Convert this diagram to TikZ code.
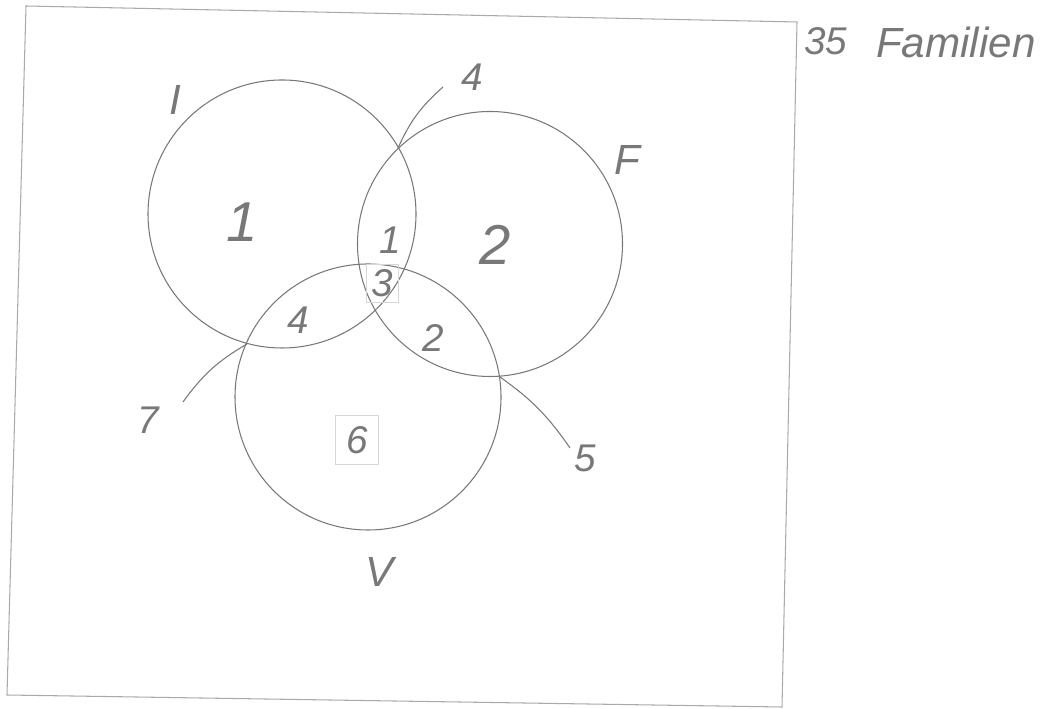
\documentclass[tikz,border=0pt]{standalone}
\usepackage{fontspec}
\setmainfont{Liberation Sans}
\usetikzlibrary{calc,positioning}
\definecolor{pencil}{RGB}{120,120,120}
\definecolor{framegray}{RGB}{170,170,170}
\definecolor{boxgray}{RGB}{215,215,215}

\tikzset{
  setcirc/.style={draw=pencil,line width=0.6pt},
  leader/.style={draw=pencil,line width=0.6pt},
  hand/.style={text=pencil,font=\itshape},
  bignum/.style={hand,font=\itshape\fontsize{32}{36}\selectfont},
  smallnum/.style={hand,font=\itshape\fontsize{22}{26}\selectfont},
  setlabel/.style={hand,font=\itshape\fontsize{24}{28}\selectfont},
  markbox/.style={draw=boxgray,line width=0.5pt,inner sep=3pt}
}

\begin{document}
\begin{tikzpicture}
        \useasboundingbox (0,0) rectangle (20.9,14.18);
        % frame (scanned sheet, slightly tilted)
        \coordinate (tl) at (0.52,14.06);
        \coordinate (tr) at (15.94,13.74);
        \coordinate (br) at (15.64,0.04);
        \coordinate (bl) at (0.14,0.28);
        \draw[framegray,line width=0.6pt] (tl) -- (tr) -- (br) -- (bl) -- cycle;

        % the three sets
        \draw[setcirc] (5.64,9.90) circle (2.68);
        \draw[setcirc] (9.80,9.30) circle (2.65);
        \draw[setcirc] (7.36,6.24) circle (2.66);

        \node[setlabel] (labI) at (3.50,12.18) {I};
        \node[setlabel] (labF) at (12.54,10.98) {F};
        \node[setlabel] (labV) at (7.60,2.74) {V};

        % counts inside
        \node[bignum] (onlyI) at (4.84,9.74) {1};
        \node[bignum] (onlyF) at (9.90,9.28) {2};
        \node[smallnum] (IF) at (7.80,9.38) {1};
        \node[smallnum,markbox] (IFV) at (7.64,8.52) {3};
        \node[smallnum] (IV) at (5.96,7.78) {4};
        \node[smallnum] (FV) at (8.66,7.42) {2};
        \node[smallnum,markbox,inner sep=6pt] (onlyV) at (7.14,5.38) {6};

        % leaders to the outer counts
        \coordinate (xIF) at (7.96,11.22);
        \coordinate (eIF) at (8.86,12.44);
        \node[smallnum] (cIF) at (9.44,12.64) {4};
        \draw[leader] (xIF) to[bend left=12] (eIF);

        \coordinate (xIV) at (4.94,7.30);
        \coordinate (eIV) at (3.66,6.14);
        \node[smallnum] (cIV) at (2.96,5.78) {7};
        \draw[leader] (xIV) to[bend right=12] (eIV);

        \coordinate (xFV) at (10.00,6.64);
        \coordinate (eFV) at (11.40,5.22);
        \node[smallnum] (cFV) at (11.70,5.02) {5};
        \draw[leader] (xFV) to[bend left=10] (eFV);

        % total
        \node[smallnum,anchor=west,inner sep=0pt] (total) at (16.08,13.36) {35};
        \node[setlabel,anchor=west] (famil) at (17.40,13.34) {Familien};
\end{tikzpicture}
\end{document}
